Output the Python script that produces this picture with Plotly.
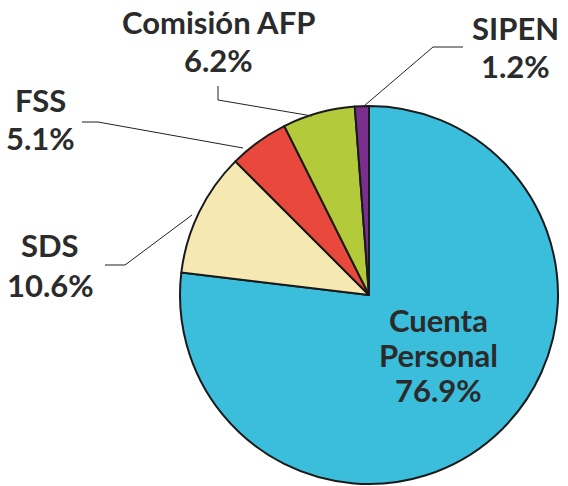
import plotly.graph_objects as go

labels = ["Cuenta Personal", "SDS", "FSS", "Comisión AFP", "SIPEN"]
values = [76.9, 10.6, 5.1, 6.2, 1.2]
colors = ["#3ABEDC", "#F5E8B0", "#E9483D", "#B3CB3B", "#7A2E8E"]

W, H = 568, 486
cx, cy, r = 369, 295, 189

fig = go.Figure(go.Pie(
    labels=labels, values=values, sort=False, direction="clockwise", rotation=0,
    marker=dict(colors=colors, line=dict(color="#1a1a1a", width=2)),
    textinfo="none", hoverinfo="label+percent", showlegend=False,
    domain=dict(x=[(cx - r) / W, (cx + r) / W], y=[(H - cy - r) / H, (H - cy + r) / H]),
))

font = dict(family="Lato, DejaVu Sans, sans-serif", size=31, color="#2b2b2b")

def px(x):
    return x / W

def py(y):
    return 1 - y / H

label_pos = {
    "Comisión AFP": (218, 22, 60),
    "SIPEN": (515, 28, 66),
    "FSS": (40, 100, 138),
    "SDS": (50, 245, 285),
}
vals = dict(zip(labels, values))
annotations = []
for name, (x, y1, y2) in label_pos.items():
    annotations.append(dict(x=px(x), y=py(y1), xref="paper", yref="paper", text="<b>%s</b>" % name,
                            showarrow=False, font=font, xanchor="center", yanchor="middle"))
    annotations.append(dict(x=px(x), y=py(y2), xref="paper", yref="paper", text="<b>%.1f%%</b>" % vals[name],
                            showarrow=False, font=font, xanchor="center", yanchor="middle"))
cp_lines = ["Cuenta", "Personal", "%.1f%%" % vals["Cuenta Personal"]]
for i, t in enumerate(cp_lines):
    annotations.append(dict(x=px(438), y=py(320 + 35 * i), xref="paper", yref="paper", text="<b>%s</b>" % t,
                            showarrow=False, font=font, xanchor="center", yanchor="middle"))

leader_lines = [
    [(364, 106), (433, 47), (463, 47)],
    [(312, 116), (218, 100), (218, 86)],
    [(243, 148), (98, 122), (82, 122)],
    [(192, 215), (125, 265), (105, 265)],
]
shapes = []
for pts in leader_lines:
    path = "M " + " L ".join("%f,%f" % (px(x), py(y)) for x, y in pts)
    shapes.append(dict(type="path", path=path, xref="paper", yref="paper",
                       line=dict(color="#222222", width=1)))

fig.update_layout(width=W, height=H, margin=dict(l=0, r=0, t=0, b=0),
                  paper_bgcolor="white", plot_bgcolor="white",
                  annotations=annotations, shapes=shapes)
fig.write_html("out.html", config={"displayModeBar": False},
               post_script="document.body.style.margin='0';")
